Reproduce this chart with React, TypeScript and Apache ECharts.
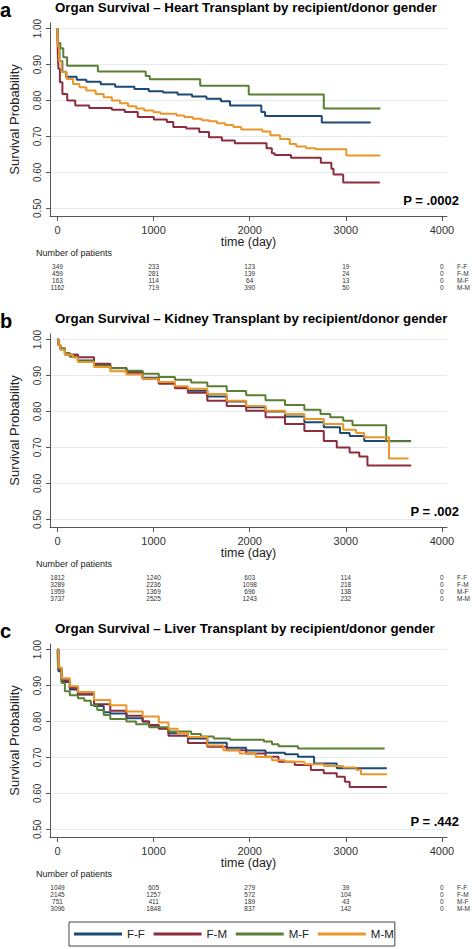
import React, { useEffect, useRef } from "react";
import * as echarts from "echarts";

// ---------- data ----------
const groups = ["F-F", "F-M", "M-F", "M-M"];
const colors = ["#1d4a73", "#8d2c3d", "#5b7f33", "#ea9628"];
const panelLetters = ["a", "b", "c"];
const panelTitles = [
  "Organ Survival \u2013 Heart Transplant by recipient/donor gender",
  "Organ Survival \u2013 Kidney Transplant by recipient/donor gender",
  "Organ Survival \u2013 Liver Transplant by recipient/donor gender",
];
const pValues = ["P = .0002", "P = .002", "P = .442"];
const yTicks = [0.5, 0.6, 0.7, 0.8, 0.9, 1.0];
const xTicks = [0, 1000, 2000, 3000, 4000];
const riskTimes = [0, 1000, 2000, 3000, 4000];

const heartRisk = [
  [349, 233, 123, 19, 0],
  [459, 281, 139, 24, 0],
  [163, 114, 64, 13, 0],
  [1162, 719, 390, 50, 0],
];
const kidneyRisk = [
  [1812, 1240, 603, 114, 0],
  [3289, 2236, 1098, 218, 0],
  [1959, 1369, 696, 138, 0],
  [3737, 2525, 1243, 232, 0],
];
const liverRisk = [
  [1049, 605, 279, 39, 0],
  [2145, 1257, 572, 104, 0],
  [751, 411, 189, 43, 0],
  [3096, 1848, 837, 142, 0],
];

// Heart transplant survival (time in days, survival probability)
const heartFF = [[0,1],[5,0.95],[20,0.91],[50,0.88],[90,0.866],[200,0.858],[300,0.852],[450,0.845],[600,0.838],[800,0.832],[950,0.826],[1100,0.822],[1250,0.817],[1400,0.811],[1550,0.805],[1700,0.798],[1795,0.786],[2121,0.768],[2160,0.757],[2750,0.739],[3259,0.739]];
const heartFM = [[0,1],[3,0.93],[10,0.888],[25,0.851],[51,0.818],[101,0.8],[185,0.786],[330,0.779],[566,0.774],[700,0.768],[835,0.754],[1003,0.747],[1138,0.74],[1205,0.726],[1340,0.722],[1475,0.712],[1576,0.698],[1710,0.689],[1845,0.681],[2175,0.667],[2230,0.653],[2260,0.648],[2430,0.641],[2740,0.627],[2850,0.61],[2872,0.594],[2973,0.572],[3354,0.572]];
const heartMF = [[0,1],[5,0.96],[30,0.945],[60,0.92],[100,0.897],[420,0.881],[918,0.868],[960,0.859],[1485,0.841],[1990,0.817],[2771,0.778],[3360,0.778]];
const heartMM = [[0,1],[3,0.95],[15,0.91],[43,0.879],[94,0.86],[162,0.846],[229,0.837],[300,0.828],[397,0.818],[480,0.809],[566,0.8],[650,0.792],[734,0.784],[820,0.778],[902,0.772],[1000,0.767],[1070,0.763],[1239,0.758],[1320,0.754],[1407,0.749],[1500,0.745],[1576,0.742],[1660,0.737],[1744,0.732],[1830,0.726],[1912,0.719],[2131,0.714],[2215,0.703],[2316,0.693],[2417,0.679],[2485,0.672],[2586,0.667],[2687,0.664],[3006,0.647],[3360,0.647]];

// Kidney transplant survival
const kidneyFF = [[0,1],[10,0.985],[30,0.973],[77,0.958],[212,0.942],[380,0.93],[549,0.921],[717,0.911],[886,0.894],[1054,0.88],[1222,0.868],[1357,0.858],[1559,0.842],[1761,0.828],[1963,0.812],[2165,0.8],[2367,0.786],[2569,0.77],[2771,0.756],[2940,0.74],[3040,0.732],[3192,0.718],[3677,0.718]];
const kidneyFM = [[0,1],[10,0.985],[30,0.975],[77,0.962],[128,0.958],[212,0.951],[380,0.933],[549,0.921],[717,0.908],[886,0.891],[1054,0.877],[1222,0.865],[1357,0.852],[1559,0.83],[1761,0.815],[1963,0.802],[2165,0.784],[2367,0.765],[2569,0.746],[2771,0.718],[2906,0.7],[3040,0.686],[3140,0.675],[3225,0.65],[3680,0.65]];
const kidneyMF = [[0,1],[10,0.985],[30,0.975],[77,0.961],[128,0.952],[212,0.94],[380,0.927],[549,0.92],[717,0.913],[886,0.905],[1054,0.896],[1222,0.888],[1391,0.881],[1559,0.87],[1761,0.857],[1963,0.845],[2165,0.831],[2367,0.818],[2569,0.805],[2737,0.793],[2838,0.784],[2973,0.774],[3070,0.762],[3420,0.717],[3680,0.717]];
const kidneyMM = [[0,1],[10,0.985],[30,0.972],[77,0.958],[160,0.95],[212,0.938],[380,0.924],[549,0.912],[717,0.903],[886,0.891],[1054,0.882],[1222,0.87],[1357,0.863],[1559,0.849],[1761,0.83],[1963,0.815],[2165,0.802],[2367,0.793],[2569,0.779],[2771,0.765],[2973,0.749],[3108,0.74],[3192,0.728],[3450,0.669],[3653,0.669]];

// Liver transplant survival
const liverFF = [[0,1],[10,0.94],[43,0.91],[128,0.889],[212,0.875],[380,0.843],[481,0.826],[549,0.822],[717,0.809],[886,0.8],[953,0.788],[1054,0.781],[1155,0.767],[1357,0.753],[1559,0.741],[1761,0.727],[1963,0.719],[2165,0.713],[2367,0.709],[2502,0.702],[2670,0.683],[2906,0.67],[3427,0.67]];
const liverFM = [[0,1],[10,0.945],[43,0.915],[128,0.893],[212,0.876],[380,0.848],[549,0.83],[717,0.816],[886,0.8],[953,0.79],[1054,0.78],[1155,0.76],[1357,0.74],[1559,0.73],[1761,0.72],[1963,0.711],[2165,0.702],[2300,0.688],[2468,0.679],[2636,0.665],[2771,0.656],[2906,0.646],[2990,0.632],[3040,0.618],[3427,0.618]];
const liverMF = [[0,1],[5,0.949],[43,0.907],[77,0.884],[128,0.873],[212,0.865],[279,0.858],[347,0.845],[414,0.832],[481,0.818],[549,0.807],[717,0.8],[818,0.792],[953,0.784],[1155,0.772],[1391,0.765],[1492,0.758],[1626,0.753],[1795,0.749],[2148,0.744],[2232,0.737],[2300,0.731],[2502,0.725],[3404,0.725]];
const liverMM = [[0,1],[10,0.95],[43,0.92],[128,0.898],[212,0.882],[380,0.86],[549,0.845],[717,0.828],[886,0.814],[1054,0.797],[1155,0.78],[1250,0.768],[1357,0.757],[1559,0.733],[1727,0.72],[1896,0.711],[2064,0.701],[2232,0.692],[2367,0.688],[2569,0.681],[2771,0.676],[2973,0.672],[3108,0.666],[3158,0.653],[3427,0.653]];

const panelSeries = [
  [heartFF, heartFM, heartMF, heartMM],
  [kidneyFF, kidneyFM, kidneyMF, kidneyMM],
  [liverFF, liverFM, liverMF, liverMM],
];
const panelRisk = [heartRisk, kidneyRisk, liverRisk];

// ---------- layout ----------
const W = 472;
const H = 949;
const OFFSETS = [0, 311, 621];
const GRID_LEFT = 38;
const GRID_RIGHT = 25;
const GRID_TOP = 23;
const GRID_H = 193;
const FONT = "'Liberation Sans', Arial, Helvetica, sans-serif";

export default function App() {
  const ref = useRef<HTMLDivElement>(null);

  useEffect(() => {
    if (!ref.current) return;
    const chart = echarts.init(ref.current, null, { renderer: "svg", width: W, height: H });

    const grids: any[] = [];
    const xAxes: any[] = [];
    const yAxes: any[] = [];
    const series: any[] = [];

    OFFSETS.forEach((o, p) => {
      grids.push({ left: GRID_LEFT, right: GRID_RIGHT, top: o + GRID_TOP, height: GRID_H });
      xAxes.push({
        type: "value",
        gridIndex: p,
        min: -78,
        max: 4053,
        name: "time (day)",
        nameLocation: "middle",
        nameGap: 19,
        nameTextStyle: { fontFamily: FONT, fontSize: 12.5, color: "#222" },
        axisLine: { show: true, onZero: false, lineStyle: { color: "#555", width: 1 } },
        axisTick: { show: true, length: 5, customValues: xTicks, lineStyle: { color: "#555" } },
        axisLabel: {
          customValues: xTicks,
          margin: 8,
          fontFamily: FONT,
          fontSize: 11,
          color: "#333",
          formatter: (v: number) => String(v),
        },
        splitLine: { show: false },
      });
      yAxes.push({
        type: "value",
        gridIndex: p,
        min: 0.4786,
        max: 1.0156,
        name: "Survival Probability",
        nameLocation: "middle",
        nameRotate: 90,
        nameGap: 29,
        nameTextStyle: { fontFamily: FONT, fontSize: 13, color: "#222" },
        axisLine: { show: true, onZero: false, lineStyle: { color: "#555", width: 1 } },
        axisTick: { show: true, length: 4, customValues: yTicks, lineStyle: { color: "#555" } },
        axisLabel: {
          customValues: yTicks,
          rotate: 90,
          margin: 8,
          fontFamily: FONT,
          fontSize: 10,
          color: "#333",
          formatter: (v: number) => v.toFixed(2),
        },
        splitLine: { show: true, lineStyle: { color: "#e3eaf0", width: 1 } },
      });
      panelSeries[p].forEach((data, g) => {
        series.push({
          type: "line",
          name: groups[g],
          xAxisIndex: p,
          yAxisIndex: p,
          data,
          step: "end",
          showSymbol: false,
          symbol: "none",
          lineStyle: { color: colors[g], width: 2 },
          itemStyle: { color: colors[g] },
          z: 2 + g,
        });
      });
    });

    chart.setOption({
      animation: false,
      backgroundColor: "#fff",
      textStyle: { fontFamily: FONT },
      grid: grids,
      xAxis: xAxes,
      yAxis: yAxes,
      series,
      legend: {
        data: groups,
        left: 69,
        top: 922,
        orient: "horizontal",
        padding: [6, 1, 6, 5],
        itemWidth: 48,
        itemHeight: 3,
        itemGap: 8.7,
        icon: "rect",
        borderColor: "#444",
        borderWidth: 1,
        borderRadius: 0,
        selectedMode: false,
        textStyle: { fontFamily: FONT, fontSize: 11.5, color: "#222", width: 26 },
      },
    });

    const graphic: any[] = [];
    OFFSETS.forEach((o, p) => {
      graphic.push({
        type: "text",
        x: 0,
        y: o + 10,
        style: {
          text: panelLetters[p],
          font: `bold 20px ${FONT}`,
          fill: "#000",
          align: "left",
          verticalAlign: "middle",
        },
      });
      graphic.push({
        type: "text",
        x: 55,
        y: o + 7.5,
        style: {
          text: panelTitles[p],
          font: `bold 13.3px ${FONT}`,
          fill: "#000",
          align: "left",
          verticalAlign: "middle",
        },
      });
      graphic.push({
        type: "text",
        x: 459,
        y: o + 200,
        style: {
          text: pValues[p],
          font: `bold 13px ${FONT}`,
          fill: "#000",
          align: "right",
          verticalAlign: "middle",
        },
      });
      graphic.push({
        type: "text",
        x: 36,
        y: o + 253,
        style: {
          text: "Number of patients",
          font: `9px ${FONT}`,
          fill: "#222",
          align: "left",
          verticalAlign: "middle",
        },
      });
      panelRisk[p].forEach((row, r) => {
        const yy = o + 266 + r * 7.3;
        row.forEach((n, k) => {
          const px = chart.convertToPixel({ xAxisIndex: p }, riskTimes[k]) as number;
          graphic.push({
            type: "text",
            x: px,
            y: yy,
            style: {
              text: String(n),
              font: `6.5px ${FONT}`,
              fill: "#333",
              align: "center",
              verticalAlign: "middle",
            },
          });
        });
        graphic.push({
          type: "text",
          x: 457,
          y: yy,
          style: {
            text: groups[r],
            font: `6.5px ${FONT}`,
            fill: "#333",
            align: "left",
            verticalAlign: "middle",
          },
        });
      });
    });
    chart.setOption({ graphic });

    return () => chart.dispose();
  }, []);

  return (
    <div
      ref={ref}
      style={{ position: "absolute", left: 0, top: 0, width: W, height: H, background: "#fff" }}
    />
  );
}
